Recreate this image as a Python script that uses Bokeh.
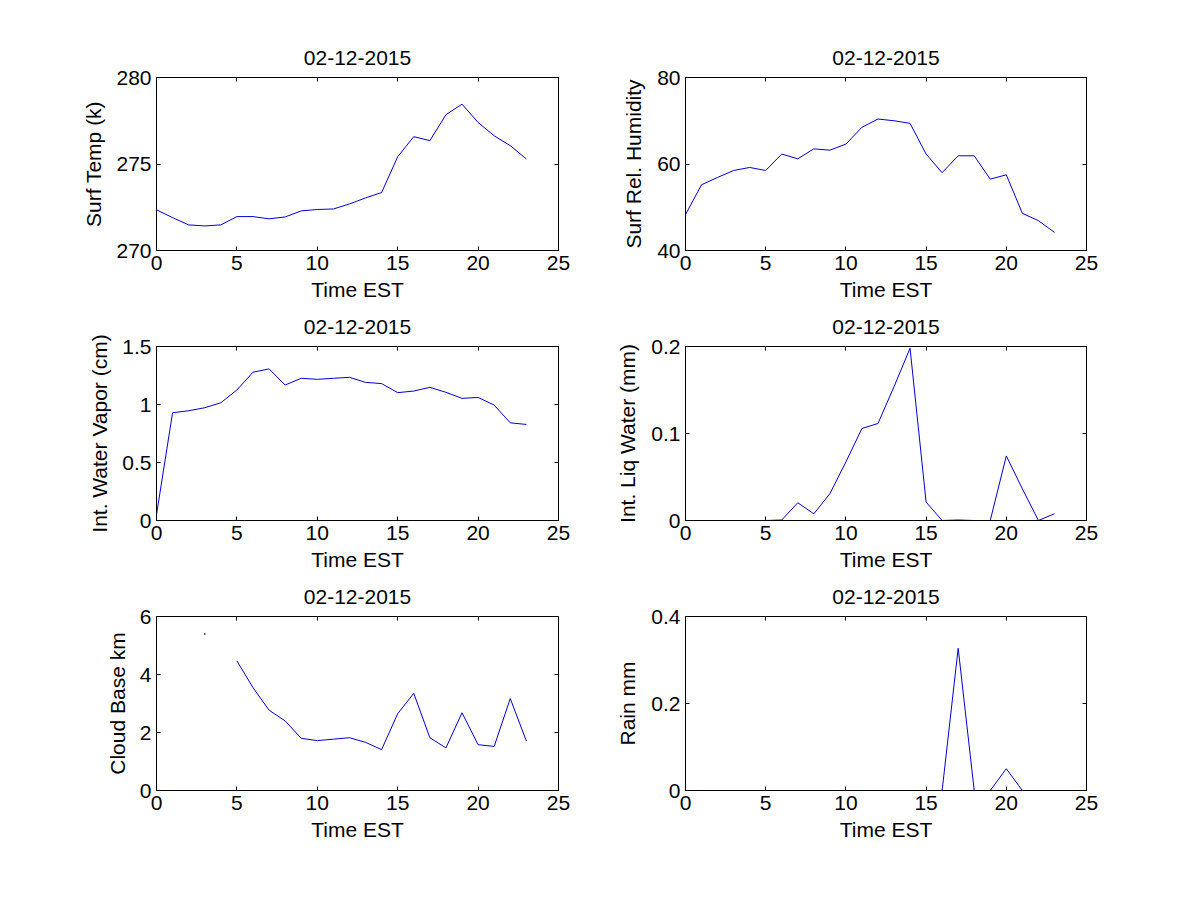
import numpy as np
from bokeh.plotting import figure
from bokeh.layouts import column, row
from bokeh.models import LinearAxis, FixedTicker, Range1d
from bokeh.embed import file_html
from bokeh.resources import INLINE

nan = np.nan

# ---------------- data ----------------
date_title = "02-12-2015"
hours = list(range(24))

surf_temp = [272.35, 271.9, 271.48, 271.42, 271.48, 271.96, 271.96, 271.83,
             271.94, 272.29, 272.37, 272.4, 272.69, 273.04, 273.35, 275.42,
             276.58, 276.35, 277.85, 278.46, 277.4, 276.63, 276.06, 275.29]

rel_humidity = [48.3, 55.2, 56.9, 58.5, 59.2, 58.5, 62.3, 61.2,
                63.5, 63.2, 64.6, 68.5, 70.4, 70.0, 69.4, 62.3,
                58.0, 61.9, 61.9, 56.5, 57.5, 48.6, 46.9, 44.2]

water_vapor = [0.05, 0.929, 0.946, 0.972, 1.015, 1.125, 1.278, 1.307,
               1.168, 1.226, 1.217, 1.226, 1.234, 1.191, 1.18, 1.102,
               1.116, 1.148, 1.105, 1.053, 1.061, 0.995, 0.842, 0.828]

liq_water = [nan, nan, nan, nan, nan, 0.0, 0.0006, 0.0204,
             0.0077, 0.0308, 0.0673, 0.1058, 0.1115, 0.1538, 0.198, 0.0212,
             0.0, 0.0006, 0.0, 0.0, 0.0742, 0.0365, 0.0, 0.0077]

cloud_base = [nan, nan, nan, 5.4, nan, 4.47, 3.55, 2.77,
              2.4, 1.8, 1.72, 1.77, 1.82, 1.66, 1.41, 2.65,
              3.35, 1.82, 1.47, 2.68, 1.58, 1.52, 3.17, 1.71]

rain = [nan, nan, nan, nan, nan, nan, nan, nan,
        nan, nan, nan, nan, nan, nan, nan, nan,
        0.0, 0.327, 0.0, 0.0, 0.05, 0.0, nan, nan]

x_ticks = [0, 5, 10, 15, 20, 25]
temp_ticks = [270, 275, 280]
temp_labels = ["270", "275", "280"]
hum_ticks = [40, 60, 80]
hum_labels = ["40", "60", "80"]
vapor_ticks = [0, 0.5, 1, 1.5]
vapor_labels = ["0", "0.5", "1", "1.5"]
liq_ticks = [0, 0.1, 0.2]
liq_labels = ["0", "0.1", "0.2"]
cloud_ticks = [0, 2, 4, 6]
cloud_labels = ["0", "2", "4", "6"]
rain_ticks = [0, 0.2, 0.4]
rain_labels = ["0", "0.2", "0.4"]

FONT = "Liberation Sans"
FS = "21px"
LINE_COLOR = "#0000d0"


def style_axis(ax, ticks, labels=None, hide_labels=False, label_standoff=5):
    ax.ticker = FixedTicker(ticks=ticks)
    ax.axis_line_color = "black"
    ax.major_tick_line_color = "black"
    ax.major_tick_in = 4
    ax.major_tick_out = 0
    ax.minor_tick_line_color = None
    ax.major_label_text_font = FONT
    if hide_labels:
        ax.major_label_text_font_size = "0px"
        ax.major_label_text_color = None
        ax.major_label_standoff = 0
        ax.axis_label_standoff = 0
    else:
        ax.major_label_text_color = "black"
        ax.major_label_text_font_size = FS
        ax.axis_label_standoff = label_standoff
        if labels is not None:
            ax.major_label_overrides = {t: l for t, l in zip(ticks, labels)}
    ax.axis_label_text_font = FONT
    ax.axis_label_text_font_size = FS
    ax.axis_label_text_font_style = "normal"
    ax.axis_label_text_color = "black"


def make_panel(y, ylabel, yrange, yticks, ylabels, frame_w, frame_h,
               bl, br, bt, bb, ylab_standoff):
    p = figure(frame_width=frame_w, frame_height=frame_h,
               x_range=Range1d(0, 25), y_range=Range1d(*yrange),
               output_backend="svg", toolbar_location=None,
               min_border_left=bl, min_border_right=br,
               min_border_top=bt, min_border_bottom=bb,
               title=date_title, background_fill_color="white",
               border_fill_color="white")
    p.title.align = "center"
    p.title.text_font = FONT
    p.title.text_font_size = FS
    p.title.text_font_style = "normal"
    p.title.text_color = "black"
    p.title.standoff = 26
    p.xgrid.visible = False
    p.ygrid.visible = False
    p.outline_line_color = "black"
    p.outline_line_alpha = 1.0

    style_axis(p.xaxis[0], x_ticks, [str(t) for t in x_ticks], label_standoff=5)
    p.xaxis[0].axis_label = "Time EST"
    style_axis(p.yaxis[0], yticks, ylabels, label_standoff=ylab_standoff)
    p.yaxis[0].axis_label = ylabel

    top = LinearAxis()
    style_axis(top, x_ticks, hide_labels=True)
    p.add_layout(top, "above")
    right = LinearAxis()
    style_axis(right, yticks, hide_labels=True)
    p.add_layout(right, "right")

    p.line(hours, y, line_color=LINE_COLOR, line_width=1)

    # isolated samples (neighbours missing) are shown as a dot, like MATLAB
    arr = np.array(y, dtype=float)
    iso_x, iso_y = [], []
    for i, v in enumerate(arr):
        if np.isnan(v):
            continue
        left_nan = i == 0 or np.isnan(arr[i - 1])
        right_nan = i == len(arr) - 1 or np.isnan(arr[i + 1])
        if left_nan and right_nan:
            iso_x.append(hours[i])
            iso_y.append(v)
    if iso_x:
        p.scatter(iso_x, iso_y, size=1.5, marker="square",
                  color="#202040", line_width=0)
    return p


# geometry
W1, W2 = 402, 401
BL1, BR1 = 156, 30
BL2, BR2 = 97, 80
BT1, BT, BB, BB3 = 77, 42, 54, 70

p1 = make_panel(surf_temp, "Surf Temp (k)", (270, 280), temp_ticks, temp_labels,
                W1, 173, BL1, BR1, BT1, BB, 8)
p2 = make_panel(rel_humidity, "Surf Rel. Humidity", (40, 80), hum_ticks, hum_labels,
                W2, 173, BL2, BR2, BT1, BB, 9)
p3 = make_panel(water_vapor, "Int. Water Vapor (cm)", (0, 1.5), vapor_ticks, vapor_labels,
                W1, 174, BL1, BR1, BT, BB, 8)
p4 = make_panel(liq_water, "Int. Liq Water (mm)", (0, 0.2), liq_ticks, liq_labels,
                W2, 174, BL2, BR2, BT, BB, 9)
p5 = make_panel(cloud_base, "Cloud Base km", (0, 6), cloud_ticks, cloud_labels,
                W1, 174, BL1, BR1, BT, BB3, 8)
p6 = make_panel(rain, "Rain mm", (0, 0.4), rain_ticks, rain_labels,
                W2, 174, BL2, BR2, BT, BB3, 9)

layout = column(row(p1, p2), row(p3, p4), row(p5, p6))

open("out.html", "w").write(file_html(layout, INLINE))
